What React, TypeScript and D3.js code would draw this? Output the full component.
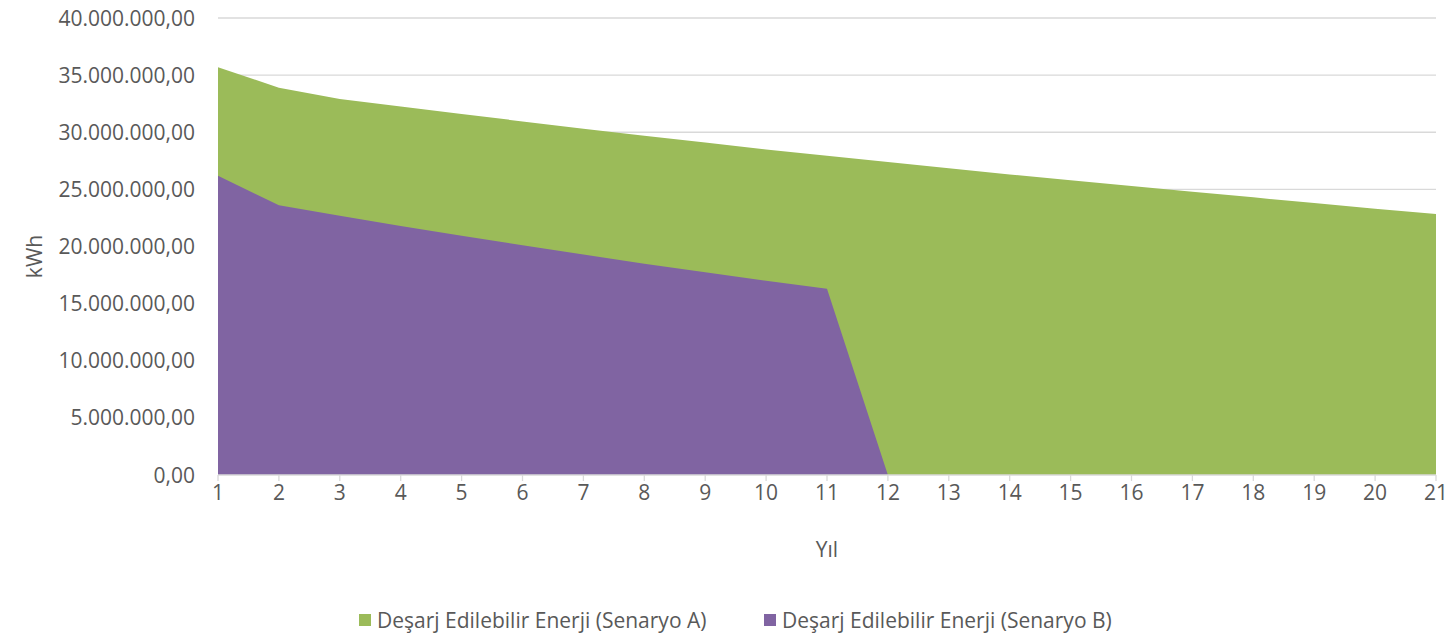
import { scaleLinear, area, range } from "d3";

const years = range(1, 22);
const scenarioA = [
  35.7, 33.9, 32.9, 32.25, 31.6, 30.95, 30.3, 29.7, 29.1, 28.5, 27.95, 27.4,
  26.85, 26.3, 25.8, 25.3, 24.8, 24.3, 23.8, 23.3, 22.85,
].map((v) => v * 1e6);
const scenarioB = [
  26.2, 23.6, 22.7, 21.8, 20.95, 20.1, 19.3, 18.5, 17.75, 17.0, 16.3, 0, 0, 0,
  0, 0, 0, 0, 0, 0, 0,
].map((v) => v * 1e6);
const yTicks = [0, 5e6, 10e6, 15e6, 20e6, 25e6, 30e6, 35e6, 40e6];
const seriesNames = [
  "Deşarj Edilebilir Enerji (Senaryo A)",
  "Deşarj Edilebilir Enerji (Senaryo B)",
];

const width = 1449;
const height = 637;
const margin = { top: 18, bottom: 162, left: 218, right: 13 };
const innerWidth = width - margin.left - margin.right;
const innerHeight = height - margin.top - margin.bottom;

const green = "#9bbb59";
const purple = "#8064a2";
const textColor = "#595959";
const font = "'Open Sans', sans-serif";

// tr-TR style number: 40.000.000,00
const fmt = (v: number) => {
  const intPart = Math.round(v)
    .toString()
    .replace(/\B(?=(\d{3})+(?!\d))/g, ".");
  return `${intPart},00`;
};

export default function App() {
  const xScale = scaleLinear().domain([1, 21]).range([0, innerWidth]);
  const yScale = scaleLinear().domain([0, 40e6]).range([innerHeight, 0]);

  const makeArea = (vals: number[]) =>
    area<number>()
      .x((_, i) => xScale(years[i]))
      .y0(innerHeight)
      .y1((d) => yScale(d))(vals) ?? "";

  return (
    <svg
      width={width}
      height={height}
      style={{ position: "absolute", left: 0, top: 0, fontFamily: font }}
    >
      <g transform={`translate(${margin.left}, ${margin.top})`}>
        {yTicks.map((t) => (
          <g key={t} transform={`translate(0, ${yScale(t)})`}>
            {t > 0 && <line x2={innerWidth} stroke="#d9d9d9" strokeWidth={1.3} />}
            <text
              x={-23}
              dy="0.36em"
              textAnchor="end"
              fontSize={21}
              fill={textColor}
            >
              {fmt(t)}
            </text>
          </g>
        ))}
        <path d={makeArea(scenarioA)} fill={green} />
        <path d={makeArea(scenarioB)} fill={purple} />
        <line
          y1={innerHeight}
          y2={innerHeight}
          x2={innerWidth}
          stroke="#d9d9d9"
          strokeWidth={1.3}
        />
        {years.map((yr) => (
          <g key={yr} transform={`translate(${xScale(yr)}, ${innerHeight})`}>
            <line y2={6} stroke="#d9d9d9" strokeWidth={1.3} />
            <text
              y={25}
              textAnchor="middle"
              fontSize={21}
              fill={textColor}
            >
              {yr}
            </text>
          </g>
        ))}
        <text
          x={innerWidth / 2}
          y={innerHeight + 82}
          textAnchor="middle"
          fontSize={21}
          fill={textColor}
        >
          Yıl
        </text>
        <text
          transform={`translate(${-176}, ${innerHeight / 2 + 10}) rotate(-90)`}
          textAnchor="middle"
          fontSize={21}
          fill={textColor}
        >
          kWh
        </text>
      </g>
      <g transform="translate(0, 620)">
        {seriesNames.map((name, i) => {
          const x0 = i === 0 ? 359 : 764;
          return (
            <g key={name} transform={`translate(${x0}, 0)`}>
              <rect x={0} y={-6} width={12} height={12} fill={i === 0 ? green : purple} />
              <text x={18} dy="0.36em" fontSize={21} fill={textColor}>
                {name}
              </text>
            </g>
          );
        })}
      </g>
    </svg>
  );
}
